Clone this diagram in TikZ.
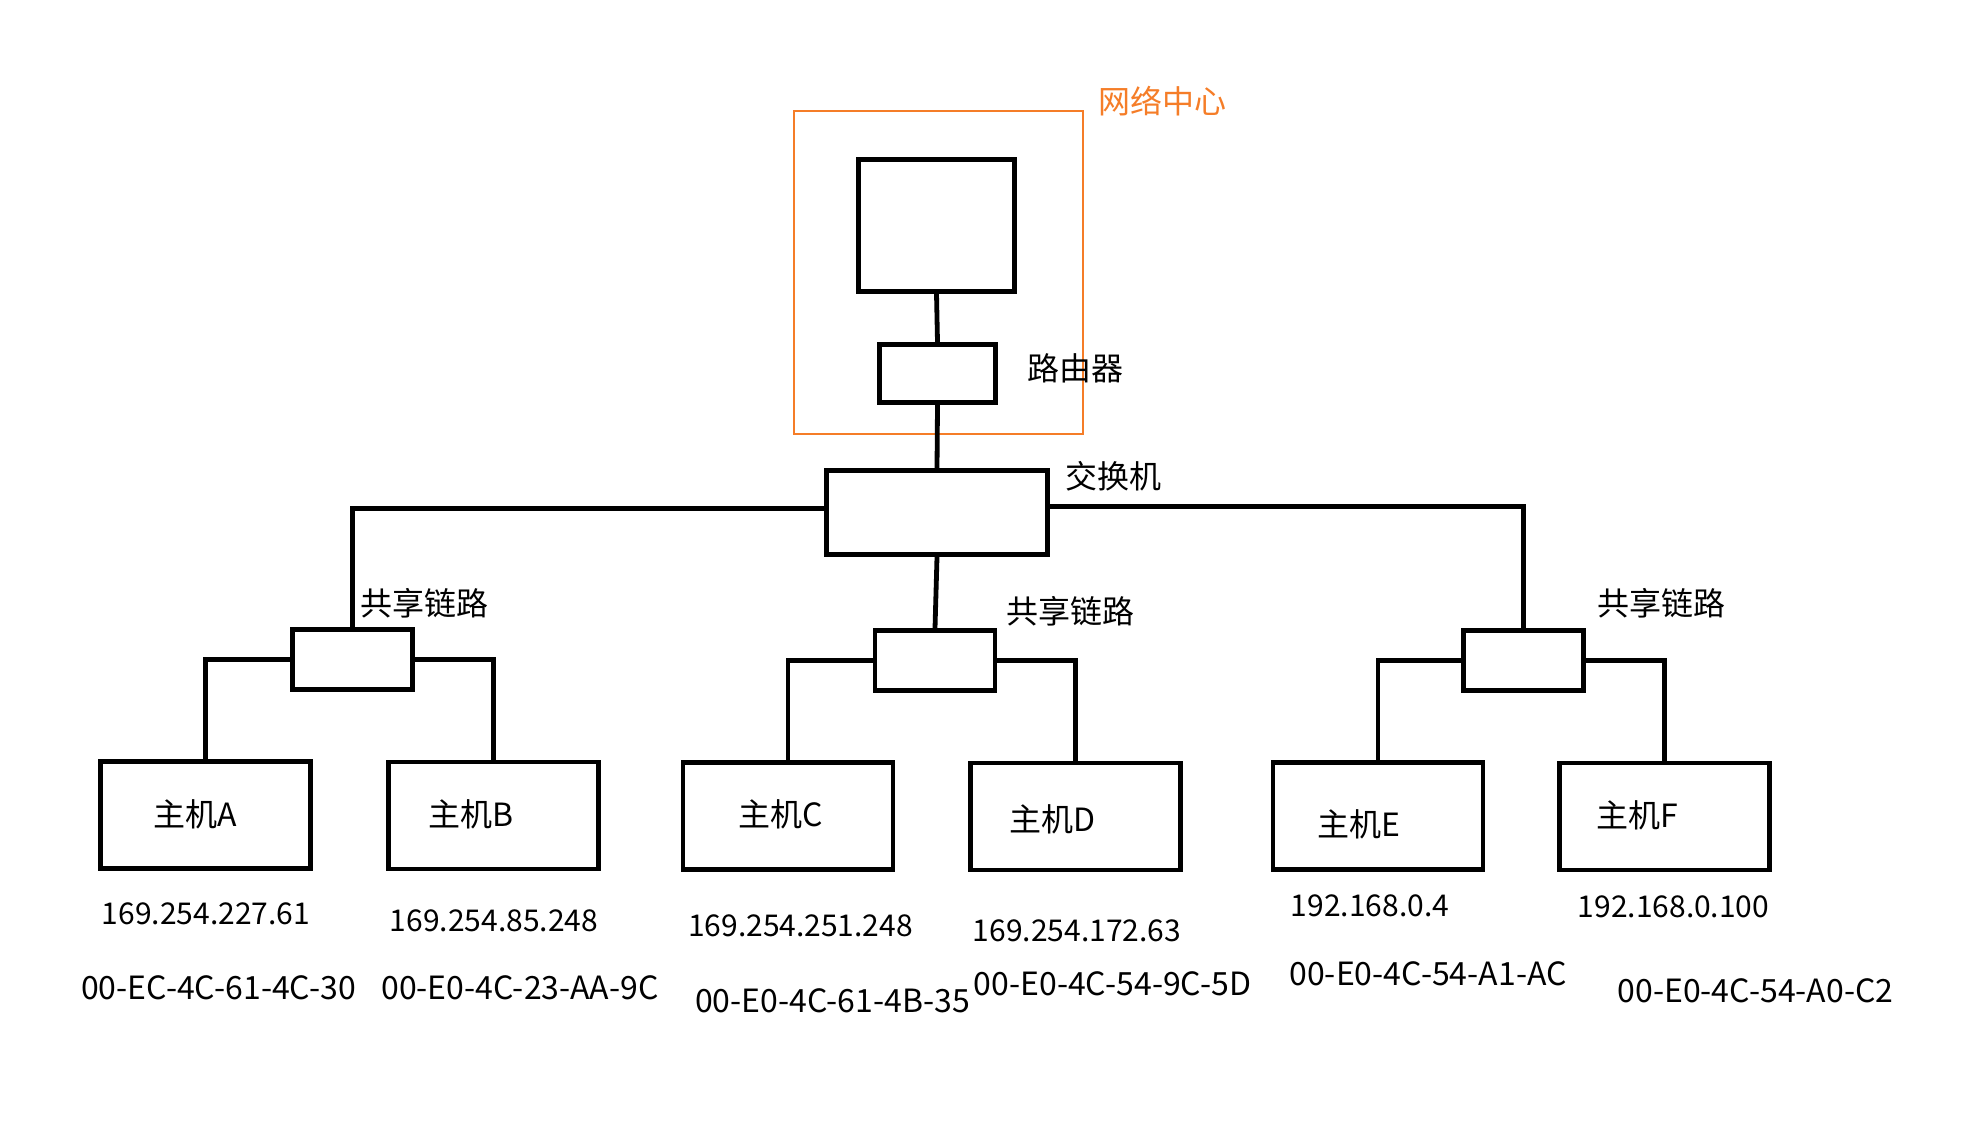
\documentclass[tikz,border=0pt]{standalone}
\usepackage{fontspec}
\setmainfont{Noto Sans CJK SC}
\usepackage{xcolor}
\definecolor{netorange}{RGB}{245,125,40}

\tikzset{
    box/.style={draw=black, line width=2.4pt, rectangle, inner sep=0pt},
    hostbox/.style={box, minimum width=105pt, minimum height=53.5pt},
    linkbox/.style={box, minimum width=60pt, minimum height=30pt},
    txt/.style={inner sep=0pt, font=\fontsize{16}{19}\selectfont},
    iptxt/.style={inner sep=0pt, font=\fontsize{15}{18}\selectfont},
    wire/.style={draw=black, line width=2.4pt}
}

\begin{document}
\begin{tikzpicture}[x=0.5pt, y=-0.5pt]
    \useasboundingbox (0,0) rectangle (1979,1136);

    % 网络中心 (orange frame)
    \draw[netorange, line width=1.4pt] (794,111) rectangle (1083,434);
    \node[txt, text=netorange] (tcenter) at (1162,101) {网络中心};

    % 服务器, 路由器, 交换机
    \node[box, minimum width=78pt, minimum height=66pt] (srv) at (936.5,225.5) {};
    \node[box, minimum width=58pt, minimum height=29pt] (rt) at (937.5,373.5) {};
    \node[box, minimum width=110.5pt, minimum height=42pt] (sw) at (937,512.5) {};
    \node[txt] (trt) at (1075,368) {路由器};
    \node[txt] (tsw) at (1113,476) {交换机};

    \draw[wire] (srv.south) -- (rt.north);
    \draw[wire] (rt.south) -- (sw.north);

    % 三条共享链路
    \node[linkbox] (sL) at (352.5,659.5) {};
    \node[linkbox] (sM) at (935,660.5) {};
    \node[linkbox] (sR) at (1523.5,660.5) {};
    \node[txt] (tsL) at (424,603) {共享链路};
    \node[txt] (tsM) at (1070,611) {共享链路};
    \node[txt] (tsR) at (1661,603) {共享链路};

    \draw[wire] ([yshift=2pt]sw.west) -| (sL.north);
    \draw[wire] (sw.south) -- (sM.north);
    \draw[wire] ([yshift=3pt]sw.east) -| (sR.north);

    % 主机 A--F
    \node[hostbox] (hA) at (205.5,815) {};
    \node[hostbox] (hB) at (493.5,815.5) {};
    \node[hostbox] (hC) at (788,816) {};
    \node[hostbox] (hD) at (1075.5,816.5) {};
    \node[hostbox] (hE) at (1378,816) {};
    \node[hostbox] (hF) at (1664.5,816.5) {};

    \node[txt] (tA) at (195.5,814) {主机A};
    \node[txt] (tB) at (471,814) {主机B};
    \node[txt] (tC) at (781,814) {主机C};
    \node[txt] (tD) at (1052,819) {主机D};
    \node[txt] (tE) at (1358.5,824) {主机E};
    \node[txt] (tF) at (1637.5,815) {主机F};

    \draw[wire] (sL.west) -| (hA.north);
    \draw[wire] (sL.east) -| (hB.north);
    \draw[wire] (sM.west) -| (hC.north);
    \draw[wire] (sM.east) -| (hD.north);
    \draw[wire] (sR.west) -| (hE.north);
    \draw[wire] (sR.east) -| (hF.north);

    % IP 地址
    \node[iptxt] (ipA) at (206,914) {169.254.227.61};
    \node[iptxt] (ipB) at (494,921) {169.254.85.248};
    \node[iptxt] (ipC) at (800.5,926) {169.254.251.248};
    \node[iptxt] (ipD) at (1077,931) {169.254.172.63};
    \node[iptxt] (ipE) at (1370,906) {192.168.0.4};
    \node[iptxt] (ipF) at (1673.5,907) {192.168.0.100};

    % MAC 地址
    \node[txt] (macA) at (218.5,988) {00-EC-4C-61-4C-30};
    \node[txt] (macB) at (520,988) {00-E0-4C-23-AA-9C};
    \node[txt] (macC) at (832.5,1001) {00-E0-4C-61-4B-35};
    \node[txt] (macD) at (1112.5,984) {00-E0-4C-54-9C-5D};
    \node[txt] (macE) at (1428,974) {00-E0-4C-54-A1-AC};
    \node[txt] (macF) at (1755.5,991) {00-E0-4C-54-A0-C2};
\end{tikzpicture}
\end{document}
